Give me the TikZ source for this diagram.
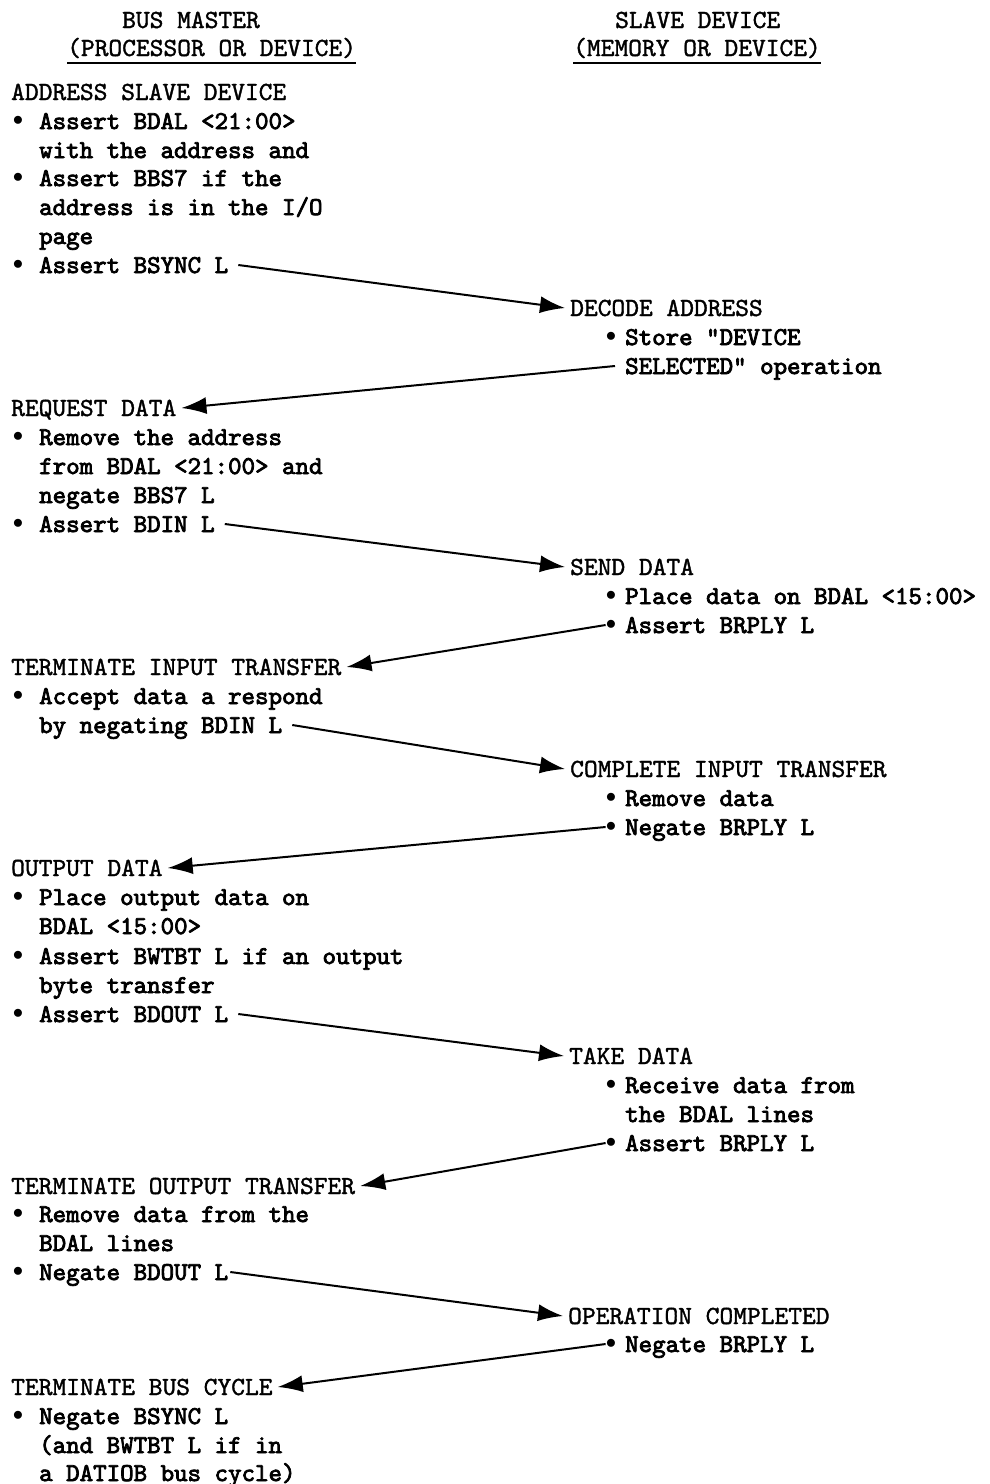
\documentclass[tikz,border=0pt]{standalone}
\usepackage{fontspec}
\usetikzlibrary{arrows.meta}
\newfontfamily\headfont{lmmono10-regular.otf}[FakeBold=1.4]
\newfontfamily\itemfont{lmmono10-regular.otf}[FakeBold=3]
\newcommand\itembullet{\raisebox{3.5pt}{$\bullet$}}
\begin{document}
\begin{tikzpicture}[x=1pt,y=-1pt,
  title/.style={anchor=base west, inner sep=0pt, text height=18pt, text depth=7pt,
    font=\headfont\fontsize{26.2}{29}\selectfont},
  head/.style={anchor=base west, inner xsep=5pt, inner ysep=0pt, xshift=-5pt,
    text height=18pt, text depth=2pt, font=\headfont\fontsize{26.2}{29}\selectfont},
  item/.style={anchor=base west, inner xsep=10pt, inner ysep=0pt, xshift=-10pt,
    text height=18pt, text depth=2pt, font=\itemfont\fontsize{25.7}{29}\selectfont},
  bul/.style={anchor=base, inner xsep=0pt, inner ysep=0pt,
    text height=18pt, text depth=2pt, font=\fontsize{22}{22}\selectfont},
  flow/.style={line width=2pt, -{Latex[length=25pt,width=17pt]}},
  uline/.style={line width=1.8pt}]
\useasboundingbox (0,0) rectangle (990,1484);

% column titles
\node[title] (tl1) at (122,28) {BUS MASTER};
\node[title] (tl2) at (67,56) {(PROCESSOR OR DEVICE)};
\node[title] (tr1) at (615,28) {SLAVE DEVICE};
\node[title] (tr2) at (573,56) {(MEMORY OR DEVICE)};
\draw[uline] (tl2.south west) -- (tl2.south east);
\draw[uline] (tr2.south west) -- (tr2.south east);

% master: address slave device
\node[head] (h1) at (11,100) {ADDRESS SLAVE DEVICE};
\node[bul] (b11) at (18,129) {\itembullet};
\node[item] (t11) at (39,129) {Assert BDAL <21:00>};
\node[item] (t12) at (39,158) {with the address and};
\node[bul] (b12) at (18,186) {\itembullet};
\node[item] (t13) at (39,186) {Assert BBS7 if the};
\node[item] (t14) at (39,215) {address is in the I/O};
\node[item] (t15) at (39,244) {page};
\node[bul] (b13) at (18,273) {\itembullet};
\node[item] (bsync) at (39,273) {Assert BSYNC L};

% slave: decode address
\node[head] (r1) at (570,316) {DECODE ADDRESS};
\node[bul] (rb11) at (611,345) {\itembullet};
\node[item] (s11) at (625,345) {Store "DEVICE};
\node[item] (selected) at (625,374) {SELECTED" operation};

% master: request data
\node[head] (h2) at (11,416) {REQUEST DATA};
\node[bul] (b21) at (18,445) {\itembullet};
\node[item] (t21) at (39,445) {Remove the address};
\node[item] (t22) at (39,474) {from BDAL <21:00> and};
\node[item] (t23) at (39,503) {negate BBS7 L};
\node[bul] (b22) at (18,532) {\itembullet};
\node[item] (bdin) at (39,532) {Assert BDIN L};

% slave: send data
\node[head] (r2) at (570,575) {SEND DATA};
\node[bul] (rb21) at (611,604) {\itembullet};
\node[item] (s21) at (625,604) {Place data on BDAL <15:00>};
\node[bul] (rb22) at (611,633) {\itembullet};
\node[item] (s22) at (625,633) {Assert BRPLY L};

% master: terminate input transfer
\node[head] (h3) at (11,675) {TERMINATE INPUT TRANSFER};
\node[bul] (b31) at (18,704) {\itembullet};
\node[item] (t31) at (39,704) {Accept data a respond};
\node[item] (negbdin) at (39,733) {by negating BDIN L};

% slave: complete input transfer
\node[head] (r3) at (570,777) {COMPLETE INPUT TRANSFER};
\node[bul] (rb31) at (611,806) {\itembullet};
\node[item] (s31) at (625,806) {Remove data};
\node[bul] (rb32) at (611,835) {\itembullet};
\node[item] (s32) at (625,835) {Negate BRPLY L};

% master: output data
\node[head] (h4) at (11,876) {OUTPUT DATA};
\node[bul] (b41) at (18,905) {\itembullet};
\node[item] (t41) at (39,905) {Place output data on};
\node[item] (t42) at (39,934) {BDAL <15:00>};
\node[bul] (b42) at (18,964) {\itembullet};
\node[item] (t43) at (39,964) {Assert BWTBT L if an output};
\node[item] (t44) at (39,993) {byte transfer};
\node[bul] (b43) at (18,1022) {\itembullet};
\node[item] (bdout) at (39,1022) {Assert BDOUT L};

% slave: take data
\node[head] (r4) at (569,1064) {TAKE DATA};
\node[bul] (rb41) at (611,1093) {\itembullet};
\node[item] (s41) at (625,1093) {Receive data from};
\node[item] (s42) at (625,1122) {the BDAL lines};
\node[bul] (rb42) at (611,1151) {\itembullet};
\node[item] (s43) at (625,1151) {Assert BRPLY L};

% master: terminate output transfer
\node[head] (h5) at (11,1194) {TERMINATE OUTPUT TRANSFER};
\node[bul] (b51) at (18,1222) {\itembullet};
\node[item] (t51) at (39,1222) {Remove data from the};
\node[item] (t52) at (39,1251) {BDAL lines};
\node[bul] (b52) at (18,1280) {\itembullet};
\node[item, inner xsep=2pt, xshift=8pt] (negbdout) at (39,1280) {Negate BDOUT L};

% slave: operation completed
\node[head] (r5) at (568,1324) {OPERATION COMPLETED};
\node[bul] (rb51) at (611,1352) {\itembullet};
\node[item] (s51) at (625,1352) {Negate BRPLY L};

% master: terminate bus cycle
\node[head] (h6) at (11,1395) {TERMINATE BUS CYCLE};
\node[bul] (b61) at (18,1424) {\itembullet};
\node[item] (t61) at (39,1424) {Negate BSYNC L};
\node[item] (t62) at (39,1453) {(and BWTBT L if in};
\node[item] (t63) at (39,1481) {a DATIOB bus cycle)};

% handshake arrows
\draw[flow] (bsync.east) -- (r1.west);
\draw[flow] (selected.west) -- (h2.east);
\draw[flow] (bdin.east) -- (r2.west);
\draw[flow] (rb22.west) -- (h3.east);
\draw[flow] (negbdin.east) -- (r3.west);
\draw[flow] (rb32.west) -- (h4.east);
\draw[flow] (bdout.east) -- (r4.west);
\draw[flow] (rb42.west) -- (h5.east);
\draw[flow] (negbdout.east) -- (r5.west);
\draw[flow] (rb51.west) -- (h6.east);
\end{tikzpicture}
\end{document}
